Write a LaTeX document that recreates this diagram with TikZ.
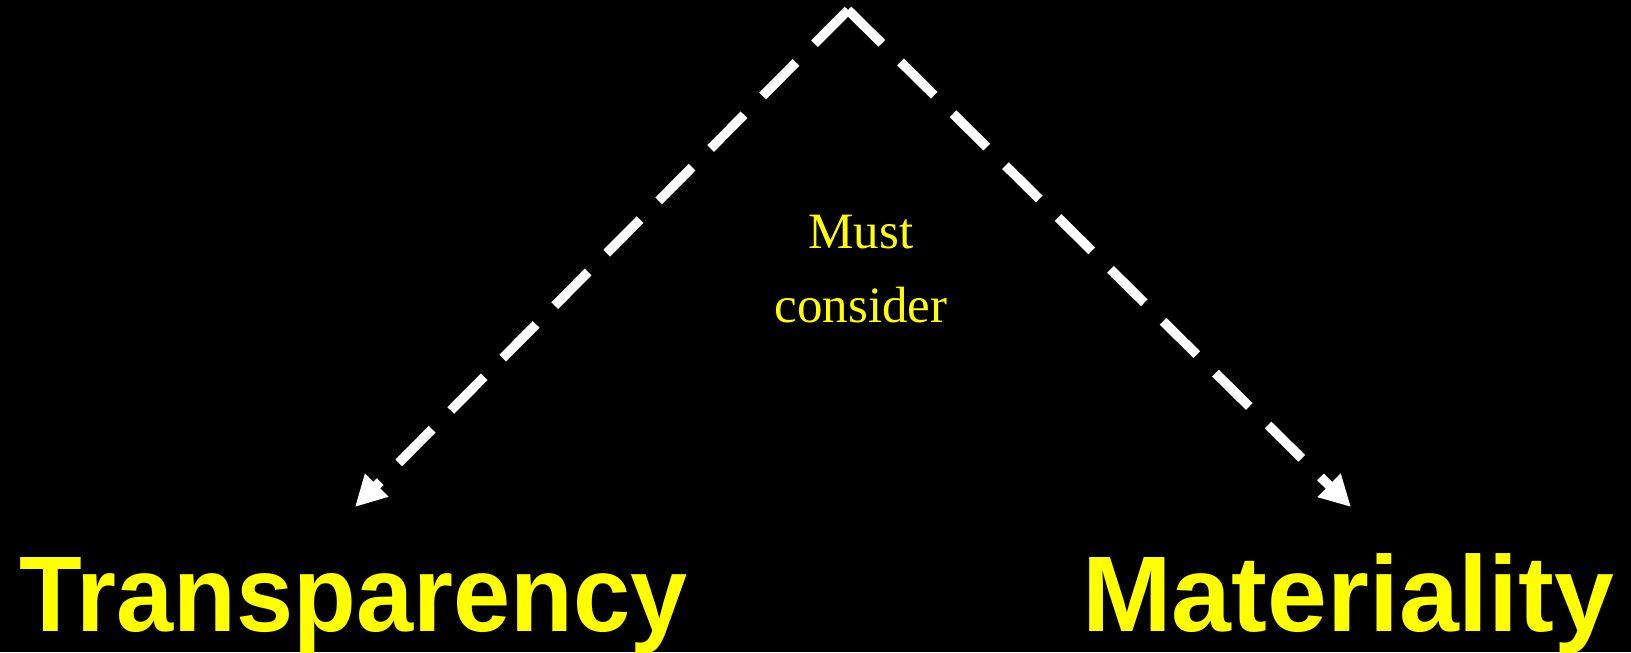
\documentclass[tikz,border=0pt]{standalone}
\usepackage{fontspec}
\setmainfont{Liberation Serif}
\newfontfamily\headfont[FakeStretch=0.955]{Liberation Sans}
\newfontfamily\headfontwide[FakeStretch=1.0]{Liberation Sans}
\definecolor{hlyellow}{RGB}{255,255,0}
\usetikzlibrary{arrows.meta, positioning}
\tikzset{
  keyword/.style={text=hlyellow, inner sep=0pt,
    font=\headfont\bfseries\fontsize{30.6}{36}\selectfont},
  note/.style={text=hlyellow, inner sep=0pt, align=center,
    font=\fontsize{14.5}{21.3}\selectfont},
  dasharrow/.style={white, line width=2.7pt, line cap=butt,
    dash pattern=on 13.5pt off 7.5pt,
    -{Triangle[length=8.8pt, width=8.8pt]}},
}

\begin{document}
\begin{tikzpicture}
  \fill[black] (0,0) rectangle (16.31,6.52);
  \useasboundingbox (0,0) rectangle (16.31,6.52);
  \coordinate (top) at (8.48,6.42);
  \coordinate (ltip) at (3.55,1.45);
  \coordinate (rtip) at (13.51,1.45);
  \node[keyword, anchor=base west] (transp) at (0.19,0.21) {Transparency};
  \node[keyword, anchor=base east, font=\headfontwide\bfseries\fontsize{30.6}{36}\selectfont] (mater) at (16.15,0.21) {Materiality};
  \node[note, anchor=north] (must) at (8.61,4.38) {Must\\consider};
  \draw[dasharrow] (top) -- (ltip);
  \draw[dasharrow] (top) -- (rtip);
\end{tikzpicture}
\end{document}
